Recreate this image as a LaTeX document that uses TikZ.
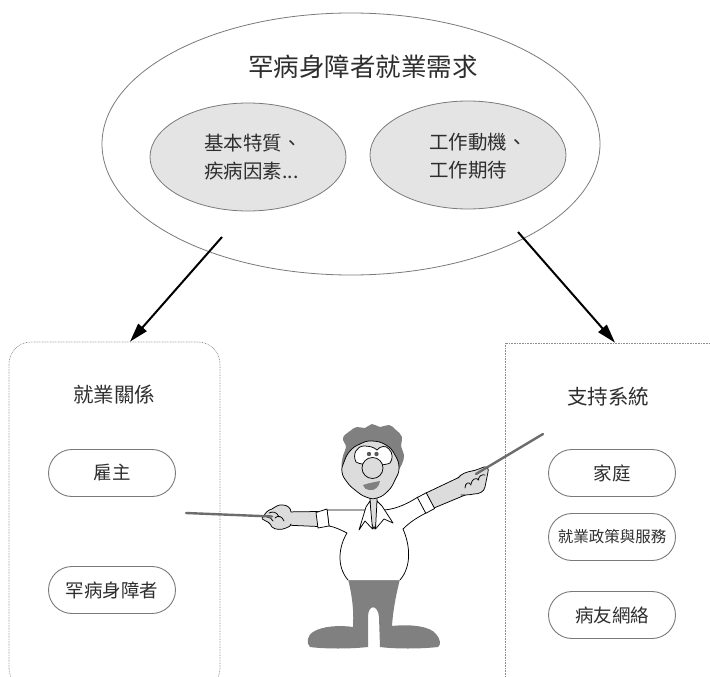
\documentclass[tikz,border=0pt]{standalone}
\usepackage{fontspec}
\newfontfamily\cjk{Noto Sans CJK TC}
\usetikzlibrary{shapes.geometric,shapes.misc,arrows.meta}
\definecolor{ink}{HTML}{2E2E2E}
\definecolor{rimc}{HTML}{7A7A7A}
\definecolor{softfill}{HTML}{E4E4E4}
\definecolor{dotc}{HTML}{8C8C8C}
\definecolor{darkc}{HTML}{808080}
\definecolor{skin}{HTML}{DCDCDC}
\definecolor{stickc}{HTML}{6C6C6C}
\definecolor{pupil}{HTML}{5A5A5A}
\begin{document}
\begin{tikzpicture}[x=1pt,y=-1pt,
  title/.style={font={\cjk\fontsize{25.5}{30}\selectfont}, text=ink, inner sep=0pt},
  innertxt/.style={font={\cjk\fontsize{19.5}{28}\selectfont}, text=ink, inner sep=0pt, align=left},
  boxtitle/.style={font={\cjk\fontsize{20.5}{24}\selectfont}, text=ink, inner sep=0pt},
  outerell/.style={ellipse, draw=rimc, line width=0.8pt, fill=white, inner sep=0pt,
    minimum width=498pt, minimum height=262pt},
  innerell/.style={ellipse, draw=rimc, line width=0.8pt, fill=softfill, inner sep=0pt,
    minimum width=196pt, minimum height=108pt},
  dotbox/.style={draw=dotc, line width=0.7pt, dash pattern=on 0.7pt off 0.9pt, inner sep=0pt},
  pill/.style={rounded rectangle, draw=rimc, line width=0.9pt, fill=white, inner sep=0pt,
    minimum width=127pt, minimum height=47pt, text=ink,
    font={\cjk\fontsize{18.5}{22}\selectfont}},
  link/.style={draw=black, line width=2pt, -{Triangle[length=19pt,width=11pt]}},
  fig/.style={draw=black, line width=0.75pt, line join=round, line cap=round},
  stick/.style={draw=stickc, line width=2.4pt, line cap=round}]

\useasboundingbox (0,0) rectangle (710,677);
\clip (0,0) rectangle (710,677);
\fill[white] (0,0) rectangle (710,677);

% ---- needs ellipse ----
\node[outerell] (need) at (351,144) {};
\node[title] (needtitle) at (363,67) {罕病身障者就業需求};
\node[innerell] (basic) at (248,157) {};
\node[innerell] (motive) at (468,155) {};
\node[innertxt, anchor=west] (basictxt) at (204,157) {基本特質、\\疾病因素...};
\node[innertxt, anchor=west] (motivetxt) at (429,156) {工作動機、\\工作期待};

% ---- side panels ----
\node[dotbox, rounded corners=22pt, minimum width=211pt, minimum height=348pt] (employ) at (114.5,516) {};
\node[dotbox, minimum width=235pt, minimum height=357pt] (support) at (622.5,521.5) {};

\node[boxtitle] (employtitle) at (114,395) {就業關係};
\node[pill] (boss) at (112,473) {雇主};
\node[pill] (worker) at (112,590) {罕病身障者};

\node[boxtitle] (supporttitle) at (608,397) {支持系統};
\node[pill] (family) at (612,473) {家庭};
\node[pill, font={\cjk\fontsize{15.5}{20}\selectfont}] (policy) at (612,537) {就業政策與服務};
\node[pill] (peers) at (612,615) {病友網絡};

% ---- arrows ----
\coordinate (fromleft) at (222,237);
\coordinate (fromright) at (518,232);
\draw[link] (fromleft) -- ([xshift=15.5pt]employ.north);
\draw[link] (fromright) -- ([xshift=-7.5pt]support.north);

% ---- the presenter ----
% trousers and shoes
\fill[darkc] (348,579) -- (400,579) .. controls (396,595) and (393,610) .. (392,626)
  .. controls (410,624) and (430,626) .. (436,634) .. controls (441,640) and (441,645) .. (438,647)
  .. controls (420,649) and (395,649) .. (380,647)
  -- (379,617) .. controls (378,604) and (368,604) .. (368,617) -- (368,647)
  .. controls (350,649) and (325,649) .. (310,647) .. controls (306,643) and (307,636) .. (313,632)
  .. controls (322,626) and (340,625) .. (353,627)
  .. controls (354,610) and (352,595) .. (348,579) -- cycle;

% shirt
\fill[white] (327,510) -- (384,510) .. controls (398,509) and (410,502) .. (418,497) -- (426,513)
  .. controls (416,518) and (409,523) .. (403,529) .. controls (410,545) and (412,566) .. (400,580)
  -- (348,580) .. controls (336,566) and (339,546) .. (347,533)
  .. controls (341,530) and (335,527) .. (329,526) -- cycle;
\draw[fig] (348,580) .. controls (336,566) and (339,546) .. (347,533)
  .. controls (341,530) and (335,527) .. (329,526) -- (327,510) -- (384,510)
  .. controls (398,509) and (410,502) .. (418,497) -- (426,513)
  .. controls (416,518) and (409,523) .. (403,529) .. controls (410,545) and (412,566) .. (400,580);

% left arm
\draw[fig, fill=skin] (318,511.5) -- (284,512) -- (284,525) -- (318,526.5) -- cycle;
\draw[fig, fill=white] (316,512.5) -- (327,509) -- (329,526) -- (318,528) -- cycle;
\fill[skin] (291,512) .. controls (291,508) and (287,505) .. (283,505)
  .. controls (279,504) and (275,507) .. (272,509) .. controls (268,510) and (265,513) .. (264,516)
  .. controls (262,517) and (261,519) .. (264,520) .. controls (267,521) and (270,523) .. (272,527)
  .. controls (275,530) and (282,530) .. (286,528) .. controls (289,527) and (291,526) .. (291,524) -- cycle;
\draw[fig] (291,512) .. controls (291,508) and (287,505) .. (283,505)
  .. controls (279,504) and (275,507) .. (272,509) .. controls (268,510) and (265,513) .. (264,516)
  .. controls (262,517) and (261,519) .. (264,520) .. controls (267,521) and (270,523) .. (272,527)
  .. controls (275,530) and (282,530) .. (286,528) .. controls (289,527) and (291,526) .. (291,524);
\draw[fig] (269,513) .. controls (273,511) and (277,512) .. (279,517);
\draw[fig] (275,518) .. controls (278,515) and (282,516) .. (284,521);
\draw[fig] (267,517) .. controls (270,517) and (272,519) .. (273,521);

% right arm
\draw[fig, fill=skin] (426,493) -- (466,474) -- (470,493) -- (434,508) -- cycle;
\draw[fig, fill=white] (417.4,497.5) -- (426.2,492.8) -- (434.6,508.5) -- (425.8,513.3) -- cycle;
\fill[skin] (458,478) .. controls (461,474) and (466,472) .. (472,471)
  .. controls (477,470) and (481,468) .. (484,467) .. controls (487,466) and (489,469) .. (488,472)
  .. controls (487,477) and (486,482) .. (485,487) .. controls (484,492) and (479,494) .. (474,494)
  .. controls (469,495) and (464,495) .. (461,495) -- cycle;
\draw[fig] (458,478) .. controls (461,474) and (466,472) .. (472,471)
  .. controls (477,470) and (481,468) .. (484,467) .. controls (487,466) and (489,469) .. (488,472)
  .. controls (487,477) and (486,482) .. (485,487) .. controls (484,492) and (479,494) .. (474,494)
  .. controls (469,495) and (464,495) .. (461,495);
\draw[fig] (465,488) .. controls (465,483) and (469,481) .. (471,485);
\draw[fig] (471,484) .. controls (472,479) and (476,477) .. (479,480);
\draw[fig] (478,480) .. controls (479,476) and (482,474) .. (485,475);

% pointers
\draw[stick] (186,513) -- (272,516.5);
\draw[stick] (476,474) -- (543,434);

% neck, tie and collar
\draw[fig, fill=skin] (370,494) -- (377,494) -- (377.5,521) -- (374,529) -- (370.5,521) -- cycle;
\draw[fig, fill=white] (370,501) -- (366,507) -- (359,530) -- (365,521) -- (372.5,529) -- cycle;
\draw[fig, fill=white] (377,501) -- (382,506) -- (393,523) -- (384,519) -- (375.5,529) -- cycle;

% hair
\fill[darkc] plot[smooth cycle, tension=0.7] coordinates {(349,478) (342,468) (343,456) (346,447)
  (343,438) (350,431) (357,427) (365,428) (372,424) (380,427) (389,425) (396,430) (402,437)
  (401,446) (404,455) (402,464) (397,472) (390,478)};

% face
\draw[fig, fill=skin] plot[smooth cycle, tension=0.8] coordinates {(372,441) (386,445) (395,455)
  (399,468) (395,480) (388,491) (377,498) (366,497) (355,490) (347,482) (342,472) (344,462)
  (350,451) (360,444)};

% eyes
\draw[fig, fill=white] (356,462) .. controls (352,454) and (357,446) .. (364,446)
  .. controls (369,446) and (374,447) .. (377,450) .. controls (380,446) and (386,445) .. (389,449)
  .. controls (393,453) and (393,459) .. (390,463) .. controls (385,466) and (362,466) .. (356,462) -- cycle;
\fill[pupil] (369,454) circle[radius=2.2];
\fill[pupil] (376.5,454) circle[radius=2.2];

% nose and mouth
\draw[fig, fill=skin] (372.5,468) circle[radius=10.5];
\fill[darkc] (363,485) .. controls (369,483) and (375,482) .. (380,481)
  .. controls (379,487) and (375,491) .. (369,490) .. controls (366,490) and (364,488) .. (363,485) -- cycle;

\end{tikzpicture}
\end{document}
